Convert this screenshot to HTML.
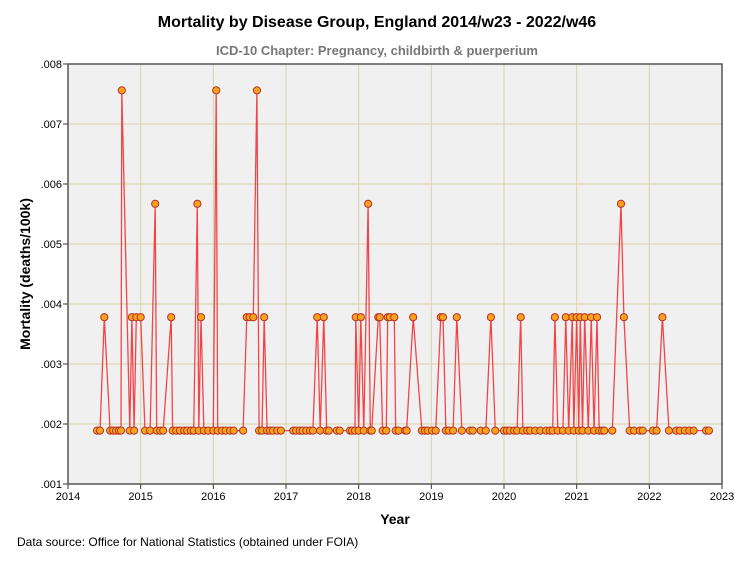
<!DOCTYPE html>
<html><head><meta charset="utf-8"><style>
body{margin:0;background:#fff;}
svg text{font-family:"Liberation Sans",Arial,sans-serif;}
</style></head><body>
<svg id="c" width="754" height="564" xmlns="http://www.w3.org/2000/svg">
<rect x="0" y="0" width="754" height="564" fill="#fff"/>
<text x="377" y="27" text-anchor="middle" font-size="16" font-weight="bold" fill="#000">Mortality by Disease Group, England 2014/w23 - 2022/w46</text>
<text x="377" y="55" text-anchor="middle" font-size="13" font-weight="bold" fill="#777">ICD-10 Chapter: Pregnancy, childbirth &amp; puerperium</text>
<rect x="68" y="64" width="654" height="420" fill="#f0f0f0"/>
<g id="grid"></g>
<g id="axes"></g>
<g id="series"></g>
<rect x="68" y="64" width="654" height="420" fill="none" stroke="#555" stroke-width="1.5"/>
<text x="395" y="524" text-anchor="middle" font-size="14" font-weight="bold">Year</text>
<text transform="translate(30,274) rotate(-90)" text-anchor="middle" font-size="14" font-weight="bold">Mortality (deaths/100k)</text>
<text x="17" y="546" font-size="12">Data source: Office for National Statistics (obtained under FOIA)</text>
</svg>
<script>
const xTicks=[2014,2015,2016,2017,2018,2019,2020,2021,2022,2023];
const yTicks=[0.001,0.002,0.003,0.004,0.005,0.006,0.007,0.008];
const yTickLabels=[".001",".002",".003",".004",".005",".006",".007",".008"];
const dates=[
2014.40,2014.44,2014.50,2014.58,2014.62,2014.66,2014.70,2014.73,2014.74,2014.85,2014.88,2014.91,2014.94,
2015.00,2015.06,2015.13,2015.20,2015.22,2015.27,2015.31,2015.42,2015.44,2015.49,2015.54,2015.60,2015.64,2015.69,2015.73,2015.78,2015.80,2015.83,2015.87,2015.93,
2016.00,2016.04,2016.06,2016.12,2016.17,2016.23,2016.28,2016.41,2016.46,2016.50,2016.55,2016.60,2016.63,2016.67,2016.70,2016.74,2016.78,2016.82,2016.88,2016.93,
2017.10,2017.14,2017.19,2017.23,2017.28,2017.33,2017.37,2017.43,2017.47,2017.52,2017.56,2017.59,2017.70,2017.74,2017.88,2017.91,2017.95,2017.96,
2018.00,2018.03,2018.07,2018.13,2018.16,2018.18,2018.27,2018.29,2018.33,2018.38,2018.40,2018.43,2018.49,2018.51,2018.55,2018.64,2018.66,2018.75,2018.87,2018.91,2018.95,
2019.01,2019.06,2019.13,2019.16,2019.20,2019.24,2019.30,2019.35,2019.42,2019.53,2019.57,2019.68,2019.75,2019.82,2019.88,
2020.00,2020.04,2020.08,2020.14,2020.18,2020.23,2020.26,2020.32,2020.36,2020.43,2020.50,2020.58,2020.63,2020.67,2020.70,2020.74,2020.81,2020.85,2020.89,2020.94,2020.96,
2021.00,2021.03,2021.05,2021.08,2021.11,2021.16,2021.20,2021.24,2021.28,2021.31,2021.35,2021.38,2021.49,2021.61,2021.65,2021.73,2021.79,2021.87,2021.91,
2022.05,2022.10,2022.18,2022.27,2022.37,2022.42,2022.49,2022.55,2022.61,2022.78,2022.82];
const values=[
0.00189,0.00189,0.00378,0.00189,0.00189,0.00189,0.00189,0.00189,0.00756,0.00189,0.00378,0.00189,0.00378,
0.00378,0.00189,0.00189,0.00567,0.00189,0.00189,0.00189,0.00378,0.00189,0.00189,0.00189,0.00189,0.00189,0.00189,0.00189,0.00567,0.00189,0.00378,0.00189,0.00189,
0.00189,0.00756,0.00189,0.00189,0.00189,0.00189,0.00189,0.00189,0.00378,0.00378,0.00378,0.00756,0.00189,0.00189,0.00378,0.00189,0.00189,0.00189,0.00189,0.00189,
0.00189,0.00189,0.00189,0.00189,0.00189,0.00189,0.00189,0.00378,0.00189,0.00378,0.00189,0.00189,0.00189,0.00189,0.00189,0.00189,0.00189,0.00378,
0.00189,0.00378,0.00189,0.00567,0.00189,0.00189,0.00378,0.00378,0.00189,0.00189,0.00378,0.00378,0.00378,0.00189,0.00189,0.00189,0.00189,0.00378,0.00189,0.00189,0.00189,
0.00189,0.00189,0.00378,0.00378,0.00189,0.00189,0.00189,0.00378,0.00189,0.00189,0.00189,0.00189,0.00189,0.00378,0.00189,
0.00189,0.00189,0.00189,0.00189,0.00189,0.00378,0.00189,0.00189,0.00189,0.00189,0.00189,0.00189,0.00189,0.00189,0.00378,0.00189,0.00189,0.00378,0.00189,0.00378,0.00189,
0.00378,0.00189,0.00378,0.00189,0.00378,0.00189,0.00378,0.00189,0.00378,0.00189,0.00189,0.00189,0.00189,0.00567,0.00378,0.00189,0.00189,0.00189,0.00189,
0.00189,0.00189,0.00378,0.00189,0.00189,0.00189,0.00189,0.00189,0.00189,0.00189,0.00189];
const NS="http://www.w3.org/2000/svg";
const L=68,R=722,T=64,B=484;
const xs=v=>L+(v-2014)/(2023-2014)*(R-L);
const ys=v=>B-(v-0.001)/(0.008-0.001)*(B-T);
function mk(t,a,p){const e=document.createElementNS(NS,t);for(const k in a)e.setAttribute(k,a[k]);p.appendChild(e);return e;}
const grid=document.getElementById('grid'),axes=document.getElementById('axes'),ser=document.getElementById('series');
yTicks.forEach((v,i)=>{
 const y=ys(v);
 if(i>0&&i<yTicks.length-1){const g=mk('line',{x1:L,x2:R,y1:y,y2:y,stroke:'#d8d3a8','stroke-width':1},grid);
 
 }
 const tk=mk('line',{x1:L-5,x2:L,y1:y,y2:y,stroke:'#333'},axes);
 
 
 const t=mk('text',{x:L-6,y:y+4,'text-anchor':'end','font-size':11},axes);t.textContent=yTickLabels[i];
 
 
});
xTicks.forEach((v,i)=>{
 const x=xs(v);
 if(i>0&&i<xTicks.length-1){const g=mk('line',{x1:x,x2:x,y1:T,y2:B,stroke:'#d8d3a8','stroke-width':1},grid);
 
 }
 const tk=mk('line',{x1:x,x2:x,y1:B,y2:B+5,stroke:'#333'},axes);
 
 
 const t=mk('text',{x:x,y:B+16,'text-anchor':'middle','font-size':11},axes);t.textContent=v;
 
 
});
const n=Math.min(dates.length,values.length);
const pts=dates.slice(0,n).map((d,i)=>xs(d).toFixed(1)+','+ys(values[i]).toFixed(1)).join(' ');
const pl=mk('polyline',{points:pts,fill:'none',stroke:'#f0282d','stroke-width':1.3,'stroke-opacity':0.85},ser);


for(let i=0;i<n;i++){
 const c=mk('circle',{cx:xs(dates[i]),cy:ys(values[i]),r:3.6,fill:'#f7a21b',stroke:'#b8322a','stroke-width':1},ser);
 
 
}
</script>
</body></html>
